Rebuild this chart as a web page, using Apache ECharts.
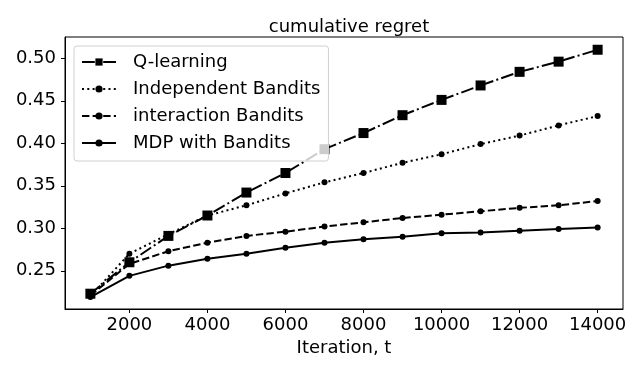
<!DOCTYPE html>
<html>
<head>
<meta charset="utf-8">
<script src="https://cdn.jsdelivr.net/npm/echarts@6/dist/echarts.min.js"></script>
<style>
  html, body { margin: 0; padding: 0; background: #fff; }
  #chart { width: 643px; height: 374px; }
</style>
</head>
<body>
<div id="chart"></div>
<script>
// iterations on the x axis
var iterations = [1000, 2000, 3000, 4000, 5000, 6000, 7000, 8000, 9000, 10000, 11000, 12000, 13000, 14000];

// cumulative regret per method
var qLearning      = [0.223, 0.260, 0.291, 0.315, 0.342, 0.365, 0.393, 0.412, 0.433, 0.451, 0.468, 0.484, 0.496, 0.510];
var independent    = [0.220, 0.270, 0.293, 0.315, 0.327, 0.341, 0.354, 0.365, 0.377, 0.387, 0.399, 0.409, 0.421, 0.432];
var interaction    = [0.221, 0.258, 0.273, 0.283, 0.291, 0.296, 0.302, 0.307, 0.312, 0.316, 0.320, 0.324, 0.327, 0.332];
var mdpBandits     = [0.219, 0.244, 0.256, 0.264, 0.270, 0.277, 0.283, 0.287, 0.290, 0.294, 0.295, 0.297, 0.299, 0.301];

var xTicks = [2000, 4000, 6000, 8000, 10000, 12000, 14000];
var yTicks = [0.25, 0.30, 0.35, 0.40, 0.45, 0.50];

var FONT = 'DejaVu Sans';

function pairs(vals) {
  return iterations.map(function (x, i) { return [x, vals[i]]; });
}

function makeSeries(name, vals, dash, symbol, size) {
  return {
    name: name,
    type: 'line',
    data: pairs(vals),
    symbol: symbol,
    symbolSize: size,
    showAllSymbol: true,
    itemStyle: { color: '#000' },
    lineStyle: { color: '#000', width: 2, type: dash, cap: 'butt' }
  };
}

var chart = echarts.init(document.getElementById('chart'));
chart.setOption({
  animation: false,
  backgroundColor: '#fff',
  title: {
    text: 'cumulative regret',
    left: 344,
    textAlign: 'center',
    top: 13,
    textStyle: { fontFamily: FONT, fontSize: 18, fontWeight: 'normal', color: '#000' }
  },
  grid: {
    left: 65, right: 20, top: 37, bottom: 65,
    show: true, borderColor: '#000', borderWidth: 1, backgroundColor: 'transparent'
  },
  legend: {
    orient: 'vertical',
    left: 74, top: 46,
    padding: [7, 8, 9, 7],
    itemWidth: 34, itemHeight: 9, itemGap: 9,
    backgroundColor: 'rgba(255,255,255,0.8)',
    borderColor: '#d0d0d0', borderWidth: 1, borderRadius: 3,
    textStyle: { fontFamily: FONT, fontSize: 18, color: '#000', padding: [0, 0, 0, 12] },
    data: ['Q-learning', 'Independent Bandits', 'interaction Bandits', 'MDP with Bandits']
  },
  xAxis: {
    type: 'value',
    min: 350, max: 14650,
    name: 'Iteration, t',
    nameLocation: 'middle',
    nameGap: 28,
    nameTextStyle: { fontFamily: FONT, fontSize: 18, color: '#000' },
    splitLine: { show: false },
    axisLine: { show: true, lineStyle: { color: '#000', width: 1 } },
    axisTick: { show: true, inside: false, length: 4, customValues: xTicks, lineStyle: { color: '#000' } },
    axisLabel: {
      fontFamily: FONT, fontSize: 18, color: '#000', margin: 7, customValues: xTicks,
      formatter: function (v) { return String(v); }
    }
  },
  yAxis: {
    type: 'value',
    min: 0.205, max: 0.525,
    splitLine: { show: false },
    axisLine: { show: true, lineStyle: { color: '#000', width: 1 } },
    axisTick: { show: true, inside: false, length: 4, customValues: yTicks, lineStyle: { color: '#000' } },
    axisLabel: {
      fontFamily: FONT, fontSize: 18, color: '#000', margin: 9, customValues: yTicks,
      formatter: function (v) { return v.toFixed(2); }
    }
  },
  series: [
    makeSeries('Q-learning', qLearning, [12.8, 3.2, 2, 3.2], 'rect', 10),
    makeSeries('Independent Bandits', independent, [2, 3.3], 'circle', 6),
    makeSeries('interaction Bandits', interaction, [7.4, 3.2], 'circle', 6),
    makeSeries('MDP with Bandits', mdpBandits, 'solid', 'circle', 6)
  ]
});
</script>
</body>
</html>
